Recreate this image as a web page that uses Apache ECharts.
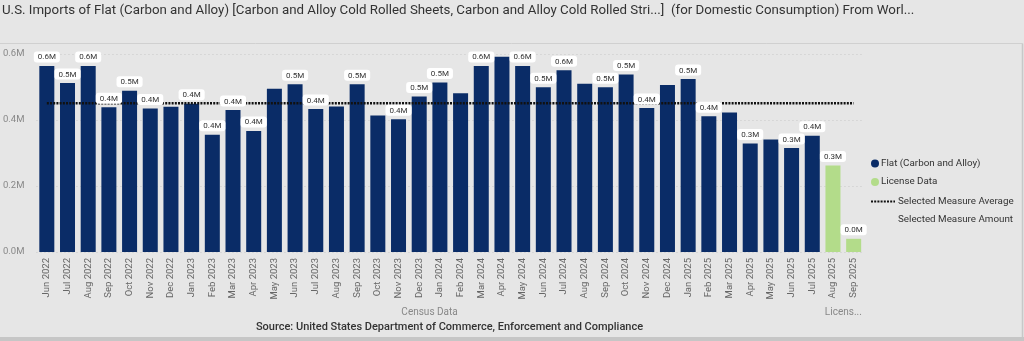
<!DOCTYPE html>
<html><head><meta charset="utf-8">
<script src="https://cdn.jsdelivr.net/npm/echarts@6/dist/echarts.min.js"></script>
<style>html,body{margin:0;padding:0;background:#e6e6e6;overflow:hidden}#c{width:1024px;height:341px;}</style>
</head><body><div id="c"></div>
<script>
// ---------- data ----------
const categories = [
  'Jun 2022','Jul 2022','Aug 2022','Sep 2022','Oct 2022','Nov 2022','Dec 2022',
  'Jan 2023','Feb 2023','Mar 2023','Apr 2023','May 2023','Jun 2023','Jul 2023','Aug 2023','Sep 2023','Oct 2023','Nov 2023','Dec 2023',
  'Jan 2024','Feb 2024','Mar 2024','Apr 2024','May 2024','Jun 2024','Jul 2024','Aug 2024','Sep 2024','Oct 2024','Nov 2024','Dec 2024',
  'Jan 2025','Feb 2025','Mar 2025','Apr 2025','May 2025','Jun 2025','Jul 2025','Aug 2025','Sep 2025'
];
// Census data (millions), Jun 2022 .. Jul 2025
const flatValues = [
  0.564, 0.512, 0.564, 0.439, 0.489, 0.435, 0.440,
  0.449, 0.355, 0.430, 0.367, 0.495, 0.508, 0.433, 0.441, 0.508, 0.414, 0.402, 0.471,
  0.514, 0.481, 0.564, 0.592, 0.564, 0.499, 0.551, 0.510, 0.499, 0.538, 0.436, 0.506,
  0.524, 0.411, 0.423, 0.329, 0.341, 0.315, 0.352
];
// License data (millions), Aug 2025 .. Sep 2025
const licenseValues = [0.262, 0.040];
const averageValue = 0.451;
const yTicks = [0, 0.2, 0.4, 0.6];
const hiddenLabelMonths = ['Dec 2022','May 2023','Aug 2023','Oct 2023','Feb 2024','Apr 2024','Aug 2024','Dec 2024','Mar 2025','May 2025'];
const groupLabels = [
  { text: 'Census Data', from: 'Jun 2022', to: 'Jul 2025' },
  { text: 'Licens...', from: 'Aug 2025', to: 'Sep 2025' }
];
const titleText = 'U.S. Imports of Flat (Carbon and Alloy) [Carbon and Alloy Cold Rolled Sheets, Carbon and Alloy Cold Rolled Stri...]  (for Domestic Consumption) From Worl...';
const sourceText = 'Source: United States Department of Commerce, Enforcement and Compliance';

// ---------- chart ----------
const FONT = 'Roboto, "Noto Sans", sans-serif';
const NAVY = '#0a2c67';
const GREEN = '#b3dc8a';

const nFlat = flatValues.length;
const flatData = categories.map((c, i) => i < nFlat ? flatValues[i] : '-');
const licenseData = categories.map((c, i) => i >= nFlat ? licenseValues[i - nFlat] : '-');
const avgData = categories.map(() => averageValue);
// label carrier: same values, drawn above the average line
const labelData = categories.map((c, i) => {
  const v = i < nFlat ? flatValues[i] : licenseValues[i - nFlat];
  return hiddenLabelMonths.includes(c) ? { value: v, label: { show: false } } : v;
});

const chart = echarts.init(document.getElementById('c'), null, { renderer: 'canvas' });
chart.setOption({
  backgroundColor: '#e6e6e6',
  animation: false,
  textStyle: { fontFamily: FONT },
  title: {
    text: titleText, left: 2, top: 4, padding: 0,
    textStyle: { fontSize: 13.3, fontWeight: 'normal', color: '#333', fontFamily: FONT }
  },
  grid: { left: 34, right: 160, top: 54, bottom: 89, containLabel: false },
  legend: [{
    orient: 'vertical', left: 871, top: 158.5, padding: 0, itemWidth: 8, itemHeight: 8, itemGap: 8.5,
    selectedMode: false, icon: 'circle',
    textStyle: { fontSize: 9.8, color: '#333', fontFamily: FONT, padding: [0, 0, 0, -3] },
    data: ['Flat (Carbon and Alloy)', 'License Data']
  }, {
    orient: 'vertical', left: 870, top: 196.5, padding: 0, itemWidth: 24, itemHeight: 8, itemGap: 8.5,
    selectedMode: false,
    textStyle: { fontSize: 9.8, color: '#333', fontFamily: FONT, padding: [0, 0, 0, -2] },
    data: [
      { name: 'Selected Measure Average', itemStyle: { color: 'transparent', opacity: 0, borderWidth: 0 } },
      { name: 'Selected Measure Amount', icon: 'none' }
    ]
  }],
  xAxis: {
    type: 'category', data: categories,
    axisLine: { show: false }, axisTick: { show: false },
    axisLabel: { rotate: 90, interval: 0, fontSize: 9.5, color: '#666', margin: 6, fontFamily: FONT }
  },
  yAxis: {
    type: 'value', min: yTicks[0], max: yTicks[yTicks.length - 1], interval: yTicks[1] - yTicks[0],
    axisLine: { show: false }, axisTick: { show: false },
    axisLabel: { fontSize: 9.5, color: '#888', margin: 12, fontFamily: FONT, formatter: v => v.toFixed(1) + 'M' },
    splitLine: { show: true, lineStyle: { type: [1, 3], color: '#c8c8c8', width: 1 } }
  },
  series: [
    { name: 'Flat (Carbon and Alloy)', type: 'bar', stack: 's', barWidth: 15, data: flatData,
      itemStyle: { color: NAVY }, z: 2 },
    { name: 'License Data', type: 'bar', stack: 's', barWidth: 15, data: licenseData,
      itemStyle: { color: GREEN }, z: 2 },
    { name: 'Selected Measure Average', type: 'line', data: avgData, symbol: 'none', z: 3,
      itemStyle: { color: '#111' },
      lineStyle: { color: '#111', width: 2.5, type: [2, 1.2] } },
    { name: 'Selected Measure Amount', type: 'line', data: [], symbol: 'none',
      itemStyle: { color: '#111' }, lineStyle: { color: '#111', width: 0 } },
    { name: 'labels', type: 'scatter', data: labelData, symbolSize: 1, z: 5, silent: true,
      itemStyle: { color: 'rgba(0,0,0,0)' },
      label: {
        show: true, position: 'top', distance: 3, opacity: 1,
        backgroundColor: '#ffffff', borderRadius: 3, padding: [2, 4, 1, 4],
        fontSize: 8, color: '#333', fontFamily: FONT,
        formatter: p => p.value.toFixed(1) + 'M'
      } }
  ]
});

// group labels and frame, positioned from the axis scale
const baseY = chart.convertToPixel({ yAxisIndex: 0 }, 0);
const graphics = [
  { type: 'line', shape: { x1: 0, y1: 43.5, x2: 1022.5, y2: 43.5 }, style: { stroke: '#d0d0d0', lineWidth: 1 }, silent: true },
  { type: 'line', shape: { x1: 1022.5, y1: 43.5, x2: 1022.5, y2: 337 }, style: { stroke: '#c8c8c8', lineWidth: 1.5 }, silent: true },
  { type: 'rect', shape: { x: 0, y: 337, width: 1024, height: 4 }, style: { fill: '#c6c6c6' }, silent: true }
];
groupLabels.forEach(g => {
  const x1 = chart.convertToPixel({ xAxisIndex: 0 }, g.from);
  const x2 = chart.convertToPixel({ xAxisIndex: 0 }, g.to);
  graphics.push({ type: 'text', x: (x1 + x2) / 2, y: baseY + 60, silent: true,
    style: { text: g.text, fill: '#888', fontSize: 10, fontFamily: FONT, textAlign: 'center', textVerticalAlign: 'middle' } });
});
graphics.push({ type: 'text', x: 449.5, y: baseY + 75, silent: true,
  style: { text: sourceText, fill: '#333', fontSize: 11, fontWeight: 500, fontFamily: FONT, textAlign: 'center', textVerticalAlign: 'middle' } });
chart.setOption({ graphic: graphics });
</script>
</body></html>
